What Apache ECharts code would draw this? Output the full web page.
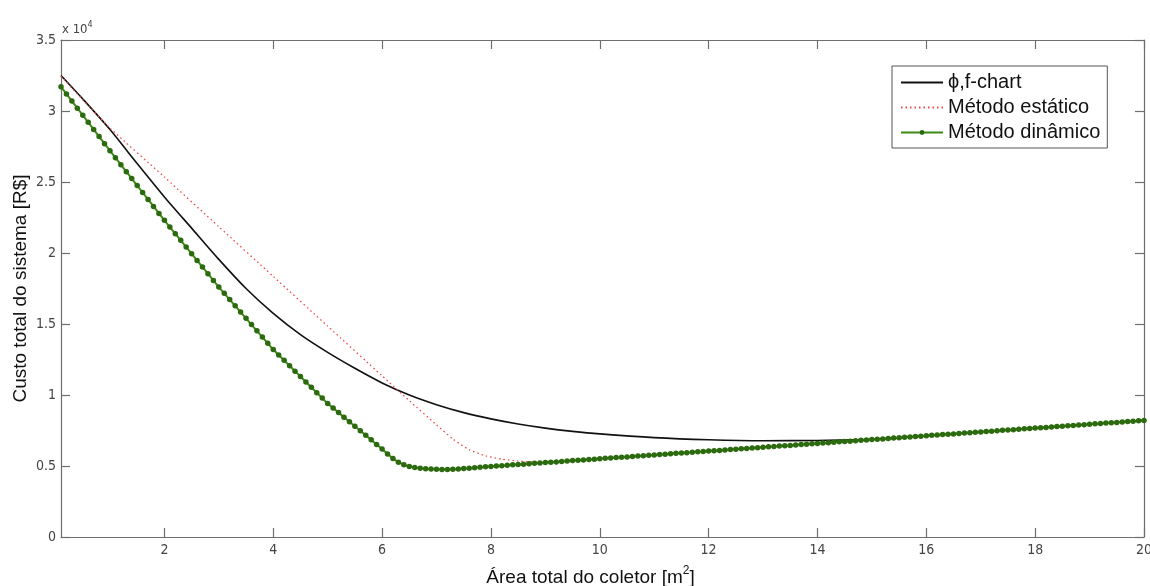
<!DOCTYPE html>
<html>
<head>
<meta charset="utf-8">
<script src="https://cdn.jsdelivr.net/npm/echarts@6/dist/echarts.min.js"></script>
<style>
  html, body { margin: 0; padding: 0; background: #fff; }
  #chart { width: 1150px; height: 586px; }
</style>
</head>
<body>
<div id="chart"></div>
<script>
// Collector area [m2] and total system cost [R$] for the three sizing methods.

// phi,f-chart
const chartArea = [0.1, 0.5, 1, 1.5, 2, 2.5, 3, 3.5, 4, 4.5, 5, 5.5, 6, 6.5, 7, 7.5, 8, 8.5, 9, 9.5, 10, 11, 12, 13, 14, 15, 16, 17, 18, 19, 20];
const chartCost = [32500, 30850, 28700, 26300, 23950, 21750, 19550, 17500, 15750, 14250, 13000, 11880, 10850, 10000, 9320, 8760, 8320, 7960, 7670, 7440, 7260, 7000, 6850, 6780, 6800, 6880, 7130, 7400, 7670, 7940, 8210];

// Static method
const staticArea = [0.1, 0.5, 1, 2, 3, 4, 5, 6, 6.5, 7, 7.3, 7.6, 7.9, 8.2, 8.5, 8.8, 9, 10, 12, 14, 16, 18, 20];
const staticCost = [32450, 30800, 28800, 25350, 21850, 18350, 14850, 11350, 9600, 7900, 6900, 6150, 5720, 5480, 5350, 5280, 5250, 5510, 6050, 6590, 7130, 7670, 8210];

// Dynamic method (one point every 0.1 m2)
const dynamicArea = [
  0.1, 0.2, 0.3, 0.4, 0.5, 0.6, 0.7, 0.8, 0.9, 1.0,
  1.1, 1.2, 1.3, 1.4, 1.5, 1.6, 1.7, 1.8, 1.9, 2.0,
  2.1, 2.2, 2.3, 2.4, 2.5, 2.6, 2.7, 2.8, 2.9, 3.0,
  3.1, 3.2, 3.3, 3.4, 3.5, 3.6, 3.7, 3.8, 3.9, 4.0,
  4.1, 4.2, 4.3, 4.4, 4.5, 4.6, 4.7, 4.8, 4.9, 5.0,
  5.1, 5.2, 5.3, 5.4, 5.5, 5.6, 5.7, 5.8, 5.9, 6.0,
  6.1, 6.2, 6.3, 6.4, 6.5, 6.6, 6.7, 6.8, 6.9, 7.0,
  7.1, 7.2, 7.3, 7.4, 7.5, 7.6, 7.7, 7.8, 7.9, 8.0,
  8.1, 8.2, 8.3, 8.4, 8.5, 8.6, 8.7, 8.8, 8.9, 9.0,
  9.1, 9.2, 9.3, 9.4, 9.5, 9.6, 9.7, 9.8, 9.9, 10.0,
  10.1, 10.2, 10.3, 10.4, 10.5, 10.6, 10.7, 10.8, 10.9, 11.0,
  11.1, 11.2, 11.3, 11.4, 11.5, 11.6, 11.7, 11.8, 11.9, 12.0,
  12.1, 12.2, 12.3, 12.4, 12.5, 12.6, 12.7, 12.8, 12.9, 13.0,
  13.1, 13.2, 13.3, 13.4, 13.5, 13.6, 13.7, 13.8, 13.9, 14.0,
  14.1, 14.2, 14.3, 14.4, 14.5, 14.6, 14.7, 14.8, 14.9, 15.0,
  15.1, 15.2, 15.3, 15.4, 15.5, 15.6, 15.7, 15.8, 15.9, 16.0,
  16.1, 16.2, 16.3, 16.4, 16.5, 16.6, 16.7, 16.8, 16.9, 17.0,
  17.1, 17.2, 17.3, 17.4, 17.5, 17.6, 17.7, 17.8, 17.9, 18.0,
  18.1, 18.2, 18.3, 18.4, 18.5, 18.6, 18.7, 18.8, 18.9, 19.0,
  19.1, 19.2, 19.3, 19.4, 19.5, 19.6, 19.7, 19.8, 19.9, 20.0
];
const dynamicCost = [
  31700, 31200, 30700, 30200, 29700, 29200, 28700, 28200, 27700, 27200,
  26710, 26220, 25730, 25240, 24750, 24260, 23770, 23280, 22790, 22300,
  21830, 21360, 20890, 20420, 19950, 19480, 19010, 18540, 18070, 17600,
  17160, 16720, 16280, 15840, 15400, 14960, 14520, 14080, 13640, 13200,
  12820, 12440, 12060, 11680, 11300, 10920, 10540, 10160, 9780, 9400,
  9080, 8760, 8440, 8120, 7800, 7480, 7160, 6840, 6520, 6200,
  5850, 5530, 5270, 5090, 4970, 4890, 4840, 4800, 4780, 4770,
  4760, 4760, 4770, 4790, 4820, 4850, 4880, 4910, 4940, 4970,
  5000, 5020, 5050, 5080, 5100, 5130, 5160, 5190, 5210, 5240,
  5270, 5290, 5320, 5350, 5380, 5400, 5430, 5460, 5480, 5510,
  5540, 5560, 5590, 5620, 5640, 5670, 5700, 5730, 5750, 5780,
  5810, 5830, 5860, 5890, 5910, 5940, 5970, 6000, 6020, 6050,
  6080, 6100, 6130, 6160, 6180, 6210, 6240, 6270, 6290, 6320,
  6350, 6370, 6400, 6430, 6450, 6480, 6510, 6540, 6560, 6590,
  6620, 6640, 6670, 6700, 6720, 6750, 6780, 6810, 6830, 6860,
  6890, 6910, 6940, 6970, 6990, 7020, 7050, 7080, 7100, 7130,
  7160, 7180, 7210, 7240, 7260, 7290, 7320, 7350, 7370, 7400,
  7430, 7450, 7480, 7510, 7530, 7560, 7590, 7620, 7640, 7670,
  7700, 7720, 7750, 7780, 7800, 7830, 7860, 7890, 7910, 7940,
  7970, 7990, 8020, 8050, 8070, 8100, 8130, 8160, 8180, 8210
];

const xTickValues = [2, 4, 6, 8, 10, 12, 14, 16, 18, 20];
const seriesNames = ['\u03d5,f-chart', 'Método estático', 'Método dinâmico'];

const pairs = (xs, ys) => xs.map((x, i) => [x, ys[i]]);

const AXIS_COLOR = '#6e6e6e';
const TICK_FONT = '"DejaVu Sans Condensed", "Liberation Sans Narrow", "Liberation Sans", Arial, sans-serif';
const TEXT_FONT = '"Liberation Sans", Arial, sans-serif';

const frameX = (pos, showLabels) => ({
  type: 'value', position: pos, min: 0.1, max: 20,
  axisLine: { show: true, onZero: false, lineStyle: { color: AXIS_COLOR, width: 1.2 } },
  axisTick: { show: true, inside: true, length: 9, customValues: xTickValues, lineStyle: { color: AXIS_COLOR, width: 1.2 } },
  axisLabel: { show: showLabels, customValues: xTickValues, color: '#444', fontFamily: TICK_FONT, fontSize: 14, margin: 6 },
  splitLine: { show: false }
});
const frameY = (pos, showLabels) => ({
  type: 'value', position: pos, min: 0, max: 35000, interval: 5000,
  axisLine: { show: true, onZero: false, lineStyle: { color: AXIS_COLOR, width: 1.2 } },
  axisTick: { show: true, inside: true, length: 9, lineStyle: { color: AXIS_COLOR, width: 1.2 } },
  axisLabel: { show: showLabels, color: '#444', fontFamily: TICK_FONT, fontSize: 14, margin: 5,
               formatter: v => String(v / 10000) },
  splitLine: { show: false }
});

const xMain = frameX('bottom', true);
xMain.name = '{a|Área total do coletor [m}{s|2}{a|]}';
xMain.nameLocation = 'middle';
xMain.nameGap = 28;
xMain.nameTextStyle = {
  padding: [0, 24, 0, 0],
  rich: {
    a: { fontFamily: TEXT_FONT, fontSize: 19, color: '#111', lineHeight: 22, verticalAlign: 'bottom' },
    s: { fontFamily: TEXT_FONT, fontSize: 12, color: '#111', lineHeight: 22, verticalAlign: 'top' }
  }
};
const yMain = frameY('left', true);
yMain.name = 'Custo total do sistema [R$]';
yMain.nameLocation = 'middle';
yMain.nameGap = 31;
yMain.nameMoveOverlap = false;
yMain.nameTextStyle = { fontFamily: TEXT_FONT, fontSize: 19, color: '#111' };

const chart = echarts.init(document.getElementById('chart'), null, { renderer: 'canvas' });
chart.setOption({
  animation: false,
  backgroundColor: '#fff',
  grid: { left: 61, right: 6, top: 40, bottom: 49, containLabel: false, outerBoundsMode: 'none' },
  xAxis: [xMain, frameX('top', false)],
  yAxis: [yMain, frameY('right', false)],
  legend: {
    data: [
      { name: seriesNames[0], itemStyle: { opacity: 0 } },
      { name: seriesNames[1], itemStyle: { opacity: 0 } },
      { name: seriesNames[2] }
    ],
    orient: 'vertical',
    left: 892, top: 66,
    padding: [6, 7, 5, 8],
    itemGap: 4,
    itemWidth: 42, itemHeight: 6,
    backgroundColor: '#fff',
    borderColor: '#555', borderWidth: 1,
    textStyle: { fontFamily: TEXT_FONT, fontSize: 20, color: '#111', lineHeight: 21 }
  },
  graphic: [{
    type: 'text', left: 62, top: 20,
    style: {
      text: '{a|x 10}{s|4}',
      rich: {
        a: { fontFamily: TICK_FONT, fontSize: 13, fill: '#444', lineHeight: 16, verticalAlign: 'bottom' },
        s: { fontFamily: TICK_FONT, fontSize: 9, fill: '#444', lineHeight: 16, verticalAlign: 'top' }
      }
    }
  }],
  series: [
    {
      name: seriesNames[0], type: 'line', xAxisIndex: 0, yAxisIndex: 0,
      data: pairs(chartArea, chartCost),
      smooth: 0.25, symbol: 'none',
      lineStyle: { color: '#111', width: 1.6 }, itemStyle: { color: '#111' },
      z: 2
    },
    {
      name: seriesNames[1], type: 'line', xAxisIndex: 0, yAxisIndex: 0,
      data: pairs(staticArea, staticCost),
      smooth: 0.2, symbol: 'none',
      lineStyle: { color: '#f04848', width: 1.3, type: [1.5, 3] }, itemStyle: { color: '#f04848' },
      z: 3
    },
    {
      name: seriesNames[2], type: 'line', xAxisIndex: 0, yAxisIndex: 0,
      data: pairs(dynamicArea, dynamicCost),
      symbol: 'circle', symbolSize: 5.5, showSymbol: true, showAllSymbol: true,
      lineStyle: { color: '#3c8c14', width: 2 },
      itemStyle: { color: '#2b6a0e', borderWidth: 0 },
      z: 4
    }
  ]
});
</script>
</body>
</html>
